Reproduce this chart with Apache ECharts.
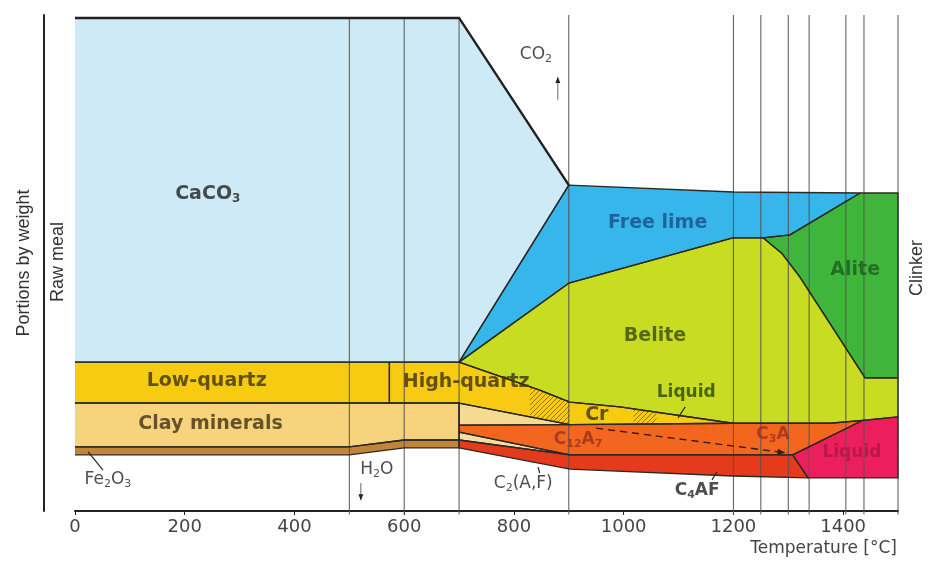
<!DOCTYPE html>
<html><head><meta charset="utf-8">
<script src="https://cdn.jsdelivr.net/npm/echarts@6/dist/echarts.min.js"></script>
<style>html,body{margin:0;padding:0;background:#fff}#c{width:929px;height:565px}</style>
</head><body><div id="c"></div>
<script>
// ---- axis ticks and guide lines (temperature, °C) ----
const temperatureTicks = [0, 200, 400, 600, 800, 1000, 1200, 1400];
const guideTempsLow = [500, 600, 700];
const guideTempsHigh = [900, 1200, 1250, 1300, 1338, 1405, 1438, 1500];

// ---- phase regions: [temperature °C, portion by weight] ----
const caco3 = [[0,30.2],[0,100],[700,100],[900,66.1],[700,30.2]];
const freeLime = [[700,30.2],[900,66.1],[1200,64.7],[1431,64.5],[1303,56.0],[1254,55.4],[1199,55.4],[900,46.2]];
const alite = [[1254,55.4],[1303,56.0],[1431,64.5],[1500,64.5],[1500,27.0],[1440,27.0],[1321,47.5],[1288,52.3]];
const belite = [[700,30.2],[900,46.2],[1199,55.4],[1254,55.4],[1288,52.3],[1321,47.5],[1440,27.0],[1500,27.0],[1500,19.1],[1436,18.4],[1376,17.8],[1199,17.8],[993,21.1],[902,22.1],[847,24.5]];
const lowQuartz = [[0,21.9],[0,30.2],[573,30.2],[573,21.9]];
const highQuartz = [[573,21.9],[573,30.2],[700,30.2],[847,24.5],[902,22.1],[993,21.1],[1199,17.8],[902,17.5],[700,21.9]];
const clayMinerals = [[0,13.0],[0,21.9],[700,21.9],[700,14.4],[600,14.4],[500,13.0]];
const clayUpperRest = [[700,17.4],[700,21.9],[902,17.5]];
const fe2o3 = [[0,11.4],[0,13.0],[500,13.0],[600,14.4],[700,14.4],[700,12.8],[600,12.8],[500,11.4]];
const clayLowerRest = [[700,14.4],[700,16.0],[866,12.2],[902,11.4]];
const aluminate = [[700,16.0],[700,17.4],[902,17.5],[1199,17.8],[1376,17.8],[1436,18.4],[1308,11.4],[902,11.4],[866,12.2]];
const ferrite = [[700,12.8],[700,14.4],[902,11.4],[1308,11.4],[1336,6.7],[1199,7.1],[902,8.5]];
const liquidPhase = [[1308,11.4],[1436,18.4],[1500,19.1],[1500,6.7],[1336,6.7]];
const cristobaliteHatchA = [[829,25.2],[847,24.5],[902,22.1],[902,17.5],[829,19.1]];
const cristobaliteHatchB = [[1018,20.7],[1060,20.0],[1060,17.65],[1018,17.6]];

// ---- extra lines ----
const caco3TopLine = [[0,100],[700,100],[900,66.1]];
const c3aFormationLine = [[950,16.8],[1295,11.8]];
const leaderFe2o3 = [[24,12.0],[51,8.3]];
const leaderLiquid = [[1112,21.1],[1099,18.9]];
const leaderC2AF = [[844,8.9],[847,7.7]];
const leaderC4AF = [[1170,7.9],[1161,6.3]];
const arrowH2O = [[521,5.7],[521,2.2]];
const arrowCO2 = [[880,83.4],[880,88.0]];

// ---- labels ----
const labelTexts = ['CaCO|3','Free lime','Alite','Belite','Low-quartz','High-quartz','Clay minerals','Liquid','Cr','C|12|A|7','C|3|A','Liquid','Fe|2|O|3','H|2|O','C|2|(A,F)','C|4|AF','CO|2'];
const labelAt = [[242,64.3],[1062,58.4],[1422,48.9],[1057,35.5],[240,26.4],[713,26.2],[247,17.6],[1114,24.1],[951,19.5],[917,14.4],[1272,15.4],[1416,11.8],[60,6.3],[550,8.3],[817,5.5],[1134,4.1],[840,92.5]];

// ================= styles =================
const regionList = [
  {pts: caco3, fill: '#cdeaf6'},
  {pts: freeLime, fill: '#36b6ea'},
  {pts: alite, fill: '#3fb63b'},
  {pts: belite, fill: '#c8dc21'},
  {pts: lowQuartz, fill: '#f6cb12'},
  {pts: highQuartz, fill: '#f6cb12'},
  {pts: clayMinerals, fill: '#f6d37c'},
  {pts: clayUpperRest, fill: '#f7da92'},
  {pts: fe2o3, fill: '#c0843a'},
  {pts: clayLowerRest, fill: '#f8dda2'},
  {pts: aluminate, fill: '#f2661f'},
  {pts: ferrite, fill: '#e53a1c'},
  {pts: liquidPhase, fill: '#ec1f5c'}
];
const hatchList = [cristobaliteHatchA, cristobaliteHatchB];
const labelStyle = [
  {c:'#222', big:true},{c:'#1b4f86', big:true},{c:'#1d5e1d', big:true},{c:'#3c4a0a', big:true},
  {c:'#3f3210', big:true},{c:'#3f3210', big:true},{c:'#3f3218', big:true},{c:'#2d430e', big:false},
  {c:'#3f3210', big:true},{c:'#a0301a', big:false},{c:'#a0301a', big:false},{c:'#b0154a', big:false},
  {c:'#222', big:false, reg:true},{c:'#222', big:false, reg:true},{c:'#222', big:false, reg:true},{c:'#222', big:false},{c:'#222', big:false, reg:true}
];

function toRich(t, s) {
  const parts = t.split('|');
  const m = s.big ? 'b' : (s.reg ? 'r' : 'm');
  return parts.map((p, i) => '{' + (i % 2 ? m + 's' : m) + '|' + p + '}').join('');
}

// outline as an open path that leaves out the edge lying on T = 0
function outlinePath(pts) {
  const n = pts.length;
  for (let i = 0; i < n; i++) {
    const a = pts[i], b = pts[(i + 1) % n];
    if (a[0] === 0 && b[0] === 0) {
      const out = [];
      for (let k = 1; k <= n; k++) out.push(pts[(i + k) % n]);
      return {closed: false, pts: out};
    }
  }
  return {closed: true, pts: pts};
}

const hc = document.createElement('canvas'); hc.width = 5; hc.height = 5;
const g = hc.getContext('2d');
g.strokeStyle = 'rgba(150,105,0,0.9)'; g.lineWidth = 1;
g.beginPath(); g.moveTo(0,5); g.lineTo(5,0); g.moveTo(-1,1); g.lineTo(1,-1); g.moveTo(4,6); g.lineTo(6,4); g.stroke();

const chart = echarts.init(document.getElementById('c'), null, {renderer: 'canvas'});
const FF = '"DejaVu Sans", sans-serif';
const AF = '18px "Liberation Sans", Arial, sans-serif';

function seg(api, pts) { return pts.map(p => api.coord(p)); }

const option = {
  animation: false,
  backgroundColor: '#fff',
  grid: {left: 75, right: 31, top: 15, bottom: 54},
  xAxis: {
    type: 'value', min: 0, max: 1500, interval: 200,
    axisLine: {onZero: false, lineStyle: {color: '#222', width: 2}},
    axisTick: {length: 4, lineStyle: {color: '#222'}},
    axisLabel: {fontFamily: FF, fontSize: 18, color: '#444', margin: 7, showMaxLabel: false,
      formatter: v => temperatureTicks.indexOf(v) >= 0 ? String(v) : ''},
    splitLine: {show: false}
  },
  yAxis: {
    type: 'value', min: 0, max: 100.6, offset: 31,
    axisLine: {show: true, onZero: false, lineStyle: {color: '#222', width: 2}},
    axisTick: {show: false}, axisLabel: {show: false}, splitLine: {show: false}
  },
  graphic: [
    {type: 'text', x: 24, y: 263, rotation: Math.PI / 2, style: {text: 'Portions by weight', align: 'center', verticalAlign: 'middle', font: AF, fill: '#333'}},
    {type: 'text', x: 58, y: 262, rotation: Math.PI / 2, style: {text: 'Raw meal', align: 'center', verticalAlign: 'middle', font: AF, fill: '#333'}},
    {type: 'text', x: 917, y: 268, rotation: Math.PI / 2, style: {text: 'Clinker', align: 'center', verticalAlign: 'middle', font: AF, fill: '#333'}},
    {type: 'text', x: 897, y: 549, style: {text: 'Temperature [°C]', align: 'right', verticalAlign: 'middle', font: '17px "DejaVu Sans", sans-serif', fill: '#444'}}
  ],
  series: [
    { // region fills
      type: 'custom', silent: true, z: 1,
      data: regionList.map((r, i) => [0, 0, i]),
      renderItem: (params, api) => ({type: 'polygon', shape: {points: seg(api, regionList[params.dataIndex].pts)}, style: {fill: regionList[params.dataIndex].fill}})
    },
    { // hatching
      type: 'custom', silent: true, z: 2,
      data: hatchList.map((r, i) => [0, 0, i]),
      renderItem: (params, api) => ({type: 'polygon', shape: {points: seg(api, hatchList[params.dataIndex])}, style: {fill: {image: hc, repeat: 'repeat'}}})
    },
    { // guide lines
      type: 'custom', silent: true, z: 3,
      data: guideTempsLow.concat(guideTempsHigh).map(t => [t, 0]),
      renderItem: (params, api) => {
        const t = api.value(0);
        const top = guideTempsLow.indexOf(t) >= 0 ? 100 : 100.6;
        const a = api.coord([t, top]), b = api.coord([t, -0.7]);
        return {type: 'line', shape: {x1: a[0], y1: a[1], x2: b[0], y2: b[1]}, style: {stroke: '#555', lineWidth: 1}};
      }
    },
    { // region outlines
      type: 'custom', silent: true, z: 4,
      data: regionList.map((r, i) => [0, 0, i]),
      renderItem: (params, api) => {
        const o = outlinePath(regionList[params.dataIndex].pts);
        return {type: o.closed ? 'polygon' : 'polyline', shape: {points: seg(api, o.pts)}, style: {fill: 'none', stroke: '#2a2a22', lineWidth: 1.3, lineJoin: 'round'}};
      }
    },
    { // annotations
      type: 'custom', silent: true, z: 5,
      data: [[0, 0]],
      renderItem: (params, api) => {
        const ch = [];
        ch.push({type: 'polyline', shape: {points: seg(api, caco3TopLine)}, style: {stroke: '#222', lineWidth: 2.4, fill: 'none'}});
        [leaderFe2o3, leaderLiquid, leaderC2AF, leaderC4AF].forEach(l => ch.push({type: 'polyline', shape: {points: seg(api, l)}, style: {stroke: '#222', lineWidth: 1.2, fill: 'none'}}));
        const d = seg(api, c3aFormationLine);
        ch.push({type: 'line', shape: {x1: d[0][0], y1: d[0][1], x2: d[1][0], y2: d[1][1]}, style: {stroke: '#3a1a10', lineWidth: 1.4, lineDash: [7, 5]}});
        const ang = Math.atan2(d[1][1] - d[0][1], d[1][0] - d[0][0]);
        const ah = (p, a, L, W) => [[p[0], p[1]], [p[0] - L * Math.cos(a) + W * Math.sin(a), p[1] - L * Math.sin(a) - W * Math.cos(a)], [p[0] - L * Math.cos(a) - W * Math.sin(a), p[1] - L * Math.sin(a) + W * Math.cos(a)]];
        ch.push({type: 'polygon', shape: {points: ah(d[1], ang, 8, 3)}, style: {fill: '#3a1a10'}});
        [arrowH2O, arrowCO2].forEach(ar => {
          const q = seg(api, ar);
          ch.push({type: 'line', shape: {x1: q[0][0], y1: q[0][1], x2: q[1][0], y2: q[1][1]}, style: {stroke: '#666', lineWidth: 1}});
          const a2 = Math.atan2(q[1][1] - q[0][1], q[1][0] - q[0][0]);
          ch.push({type: 'polygon', shape: {points: ah(q[1], a2, 6, 2.5)}, style: {fill: '#222'}});
        });
        return {type: 'group', children: ch};
      }
    },
    { // labels
      type: 'scatter', silent: true, z: 10, symbolSize: 0,
      data: labelAt.map((p, i) => ({
        value: p,
        label: {formatter: toRich(labelTexts[i], labelStyle[i]), color: labelStyle[i].c}
      })),
      label: {
        show: true, position: 'inside',
        rich: {
          b: {fontFamily: FF, fontWeight: 'bold', fontSize: 19, lineHeight: 22},
          bs: {fontFamily: FF, fontWeight: 'bold', fontSize: 12, lineHeight: 12, verticalAlign: 'bottom'},
          m: {fontFamily: FF, fontWeight: 'bold', fontSize: 17, lineHeight: 20},
          ms: {fontFamily: FF, fontWeight: 'bold', fontSize: 11, lineHeight: 11, verticalAlign: 'bottom'},
          r: {fontFamily: FF, fontSize: 17, lineHeight: 20},
          rs: {fontFamily: FF, fontSize: 11, lineHeight: 11, verticalAlign: 'bottom'}
        }
      }
    }
  ]
};
chart.setOption(option);
</script></body></html>
